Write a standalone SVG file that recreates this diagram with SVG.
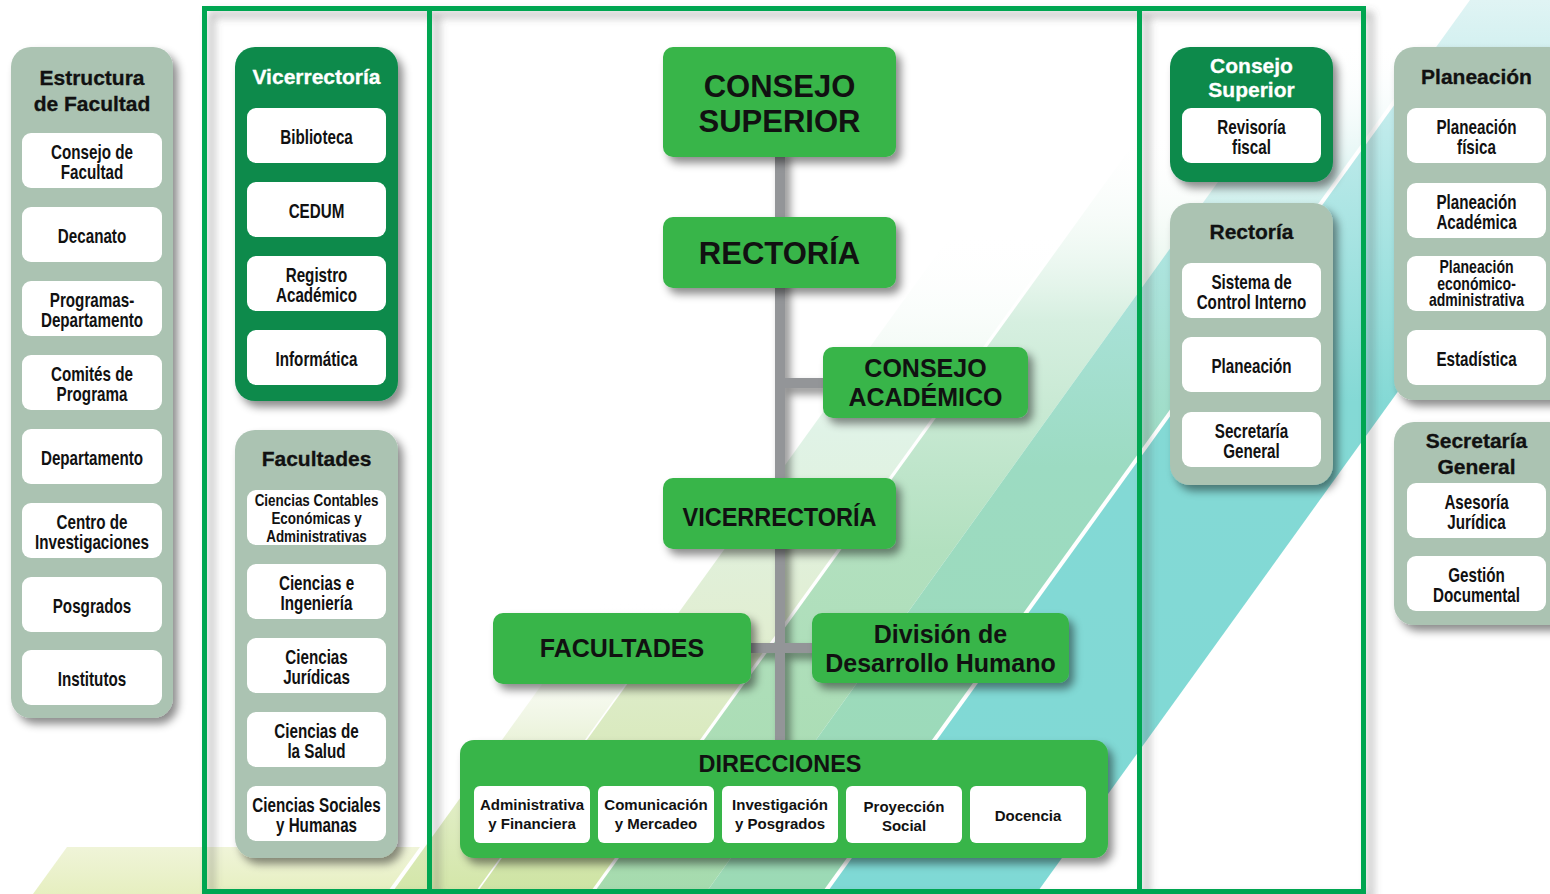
<svg xmlns="http://www.w3.org/2000/svg" width="1550" height="894" viewBox="0 0 1550 894">
<defs>
<style>
.pg{fill:#abc3b2}
.pd{fill:#0b8a4c}
.nd{fill:#39b54a}
.it{fill:#fff}
.tt{font-family:'Liberation Sans',Arial,sans-serif;font-weight:bold;font-size:21px;text-anchor:middle;fill:#111;stroke:#111;stroke-width:0.3}
.tw{fill:#fff;stroke:#fff}
.nx{font-family:'Liberation Sans',Arial,sans-serif;font-weight:bold;font-size:19.5px;text-anchor:middle;fill:#111}
.big{font-family:'Liberation Sans',Arial,sans-serif;font-weight:bold;text-anchor:middle;fill:#111}
.sb{font-family:'Liberation Sans',Arial,sans-serif;font-weight:bold;font-size:15px;text-anchor:middle;fill:#111}
.con{fill:#939598}
</style>
<filter id="sh" filterUnits="userSpaceOnUse" x="0" y="0" width="1550" height="894">
<feDropShadow dx="5" dy="6" stdDeviation="4" flood-color="#000" flood-opacity="0.45"/>
</filter>
<filter id="shf" filterUnits="userSpaceOnUse" x="0" y="0" width="1550" height="894">
<feDropShadow dx="7" dy="6" stdDeviation="4" flood-color="#555" flood-opacity="0.45"/>
</filter>
<linearGradient id="g0" gradientUnits="userSpaceOnUse" x1="0" y1="894" x2="0" y2="840">
<stop offset="0" stop-color="#e6efc0"/><stop offset="1" stop-color="#f1f5dc"/>
</linearGradient>
<linearGradient id="g1a" gradientUnits="userSpaceOnUse" x1="0" y1="894" x2="0" y2="600">
<stop offset="0" stop-color="#d3e6a8"/><stop offset="0.5" stop-color="#e8f1d6"/><stop offset="1" stop-color="#ffffff" stop-opacity="0"/>
</linearGradient>
<linearGradient id="g1b" gradientUnits="userSpaceOnUse" x1="0" y1="894" x2="0" y2="230">
<stop offset="0" stop-color="#cfe4a4"/><stop offset="0.4" stop-color="#e1eed2"/><stop offset="0.7" stop-color="#e0f3e7"/><stop offset="1" stop-color="#ffffff" stop-opacity="0"/>
</linearGradient>
<linearGradient id="g2a" gradientUnits="userSpaceOnUse" x1="0" y1="894" x2="0" y2="130">
<stop offset="0" stop-color="#a6dbae"/><stop offset="0.45" stop-color="#b2e0bf"/><stop offset="0.75" stop-color="#d6efe0"/><stop offset="1" stop-color="#ffffff" stop-opacity="0"/>
</linearGradient>
<linearGradient id="g2b" gradientUnits="userSpaceOnUse" x1="0" y1="894" x2="0" y2="40">
<stop offset="0" stop-color="#9cdab5"/><stop offset="0.5" stop-color="#9cdbc2"/><stop offset="0.75" stop-color="#ade4df"/><stop offset="1" stop-color="#ffffff" stop-opacity="0"/>
</linearGradient>
<linearGradient id="g3" gradientUnits="userSpaceOnUse" x1="0" y1="894" x2="0" y2="0">
<stop offset="0" stop-color="#7fd9d5"/><stop offset="0.55" stop-color="#84d9d5"/><stop offset="0.85" stop-color="#bdeaea"/><stop offset="1" stop-color="#e0f4f4"/>
</linearGradient>
</defs>
<rect x="0" y="0" width="1550" height="894" fill="#fff"/>
<g id="background">
<polygon points="33,894 67,847 420,847 386,894" fill="url(#g0)"/>
<polygon points="391,894 474,894 1118,0 1035,0" fill="url(#g1a)"/>
<polygon points="476,894 589,894 1233,0 1120,0" fill="url(#g1b)"/>
<polygon points="593,894 705,894 1349,0 1237,0" fill="url(#g2a)"/>
<polygon points="705,894 821,894 1465,0 1349,0" fill="url(#g2b)"/>
<polygon points="826,894 1036,894 1680,0 1470,0" fill="url(#g3)"/>
</g>
<g id="frame" filter="url(#shf)" fill="none" stroke="#00a651" stroke-width="5">
<rect x="204.5" y="8.5" width="1159" height="883"/>
<line x1="429.5" y1="8.5" x2="429.5" y2="891.5"/>
<line x1="1139.5" y1="8.5" x2="1139.5" y2="891.5"/>
</g>
<g id="connectors" filter="url(#sh)">
<rect class="con" x="775" y="150" width="10" height="595"/>
<rect class="con" x="785" y="378" width="42" height="10"/>
<rect class="con" x="748" y="643" width="68" height="10"/>
</g>
<g id="estructura-facultad">
<rect class="pg" x="11" y="47" width="162" height="671" rx="20" filter="url(#sh)"/>
<text class="tt" x="92" y="85">Estructura</text>
<text class="tt" x="92" y="111">de Facultad</text>
<rect class="it" x="22" y="133" width="140" height="55" rx="9"/>
<rect class="it" x="22" y="207" width="140" height="55" rx="9"/>
<rect class="it" x="22" y="281" width="140" height="55" rx="9"/>
<rect class="it" x="22" y="355" width="140" height="55" rx="9"/>
<rect class="it" x="22" y="429" width="140" height="55" rx="9"/>
<rect class="it" x="22" y="503" width="140" height="55" rx="9"/>
<rect class="it" x="22" y="577" width="140" height="55" rx="9"/>
<rect class="it" x="22" y="650" width="140" height="55" rx="9"/>
<g transform="translate(92,0) scale(0.78,1)">
<text class="nx" x="0" y="159.5">Consejo de</text>
<text class="nx" x="0" y="179.5">Facultad</text>
<text class="nx" x="0" y="243">Decanato</text>
<text class="nx" x="0" y="307.5">Programas-</text>
<text class="nx" x="0" y="327.5">Departamento</text>
<text class="nx" x="0" y="381.5">Comités de</text>
<text class="nx" x="0" y="401.5">Programa</text>
<text class="nx" x="0" y="465">Departamento</text>
<text class="nx" x="0" y="529.5">Centro de</text>
<text class="nx" x="0" y="549.5">Investigaciones</text>
<text class="nx" x="0" y="613">Posgrados</text>
<text class="nx" x="0" y="686">Institutos</text>
</g>
</g>
<g id="vicerrectoria-panel">
<rect class="pd" x="235" y="47" width="163" height="354" rx="20" filter="url(#sh)"/>
<text class="tt tw" x="316.5" y="84">Vicerrectoría</text>
<rect class="it" x="247" y="108" width="139" height="55" rx="9"/>
<rect class="it" x="247" y="182" width="139" height="55" rx="9"/>
<rect class="it" x="247" y="256" width="139" height="55" rx="9"/>
<rect class="it" x="247" y="330" width="139" height="55" rx="9"/>
<g transform="translate(316.5,0) scale(0.78,1)">
<text class="nx" x="0" y="144">Biblioteca</text>
<text class="nx" x="0" y="218">CEDUM</text>
<text class="nx" x="0" y="282.5">Registro</text>
<text class="nx" x="0" y="302.5">Académico</text>
<text class="nx" x="0" y="366">Informática</text>
</g>
</g>
<g id="facultades-panel">
<rect class="pg" x="235" y="430" width="163" height="428" rx="20" filter="url(#sh)"/>
<text class="tt" x="316.5" y="466">Facultades</text>
<rect class="it" x="247" y="490" width="139" height="55" rx="9"/>
<rect class="it" x="247" y="564" width="139" height="55" rx="9"/>
<rect class="it" x="247" y="638" width="139" height="55" rx="9"/>
<rect class="it" x="247" y="712" width="139" height="55" rx="9"/>
<rect class="it" x="247" y="786" width="139" height="55" rx="9"/>
<g transform="translate(316.5,0) scale(0.79,1)">
<text class="nx" x="0" y="506" style="font-size:17px">Ciencias Contables</text>
<text class="nx" x="0" y="524" style="font-size:17px">Económicas y</text>
<text class="nx" x="0" y="542" style="font-size:17px">Administrativas</text>
</g>
<g transform="translate(316.5,0) scale(0.78,1)">
<text class="nx" x="0" y="590.5">Ciencias e</text>
<text class="nx" x="0" y="610.5">Ingeniería</text>
<text class="nx" x="0" y="664.5">Ciencias</text>
<text class="nx" x="0" y="684.5">Jurídicas</text>
<text class="nx" x="0" y="738.5">Ciencias de</text>
<text class="nx" x="0" y="758.5">la Salud</text>
<text class="nx" x="0" y="812.5">Ciencias Sociales</text>
<text class="nx" x="0" y="832.5">y Humanas</text>
</g>
</g>
<g id="consejo-superior-panel">
<rect class="pd" x="1170" y="47" width="163" height="135" rx="20" filter="url(#sh)"/>
<text class="tt tw" x="1251.5" y="73">Consejo</text>
<text class="tt tw" x="1251.5" y="97">Superior</text>
<rect class="it" x="1182" y="108" width="139" height="55" rx="9"/>
<g transform="translate(1251.5,0) scale(0.78,1)">
<text class="nx" x="0" y="134">Revisoría</text>
<text class="nx" x="0" y="154">fiscal</text>
</g>
</g>
<g id="rectoria-panel">
<rect class="pg" x="1170" y="203" width="163" height="282" rx="20" filter="url(#sh)"/>
<text class="tt" x="1251.5" y="239">Rectoría</text>
<rect class="it" x="1182" y="263" width="139" height="55" rx="9"/>
<rect class="it" x="1182" y="337" width="139" height="55" rx="9"/>
<rect class="it" x="1182" y="412" width="139" height="55" rx="9"/>
<g transform="translate(1251.5,0) scale(0.78,1)">
<text class="nx" x="0" y="289.5">Sistema de</text>
<text class="nx" x="0" y="309.5">Control Interno</text>
<text class="nx" x="0" y="373">Planeación</text>
<text class="nx" x="0" y="438.5">Secretaría</text>
<text class="nx" x="0" y="458.5">General</text>
</g>
</g>
<g id="planeacion-panel">
<rect class="pg" x="1394" y="47" width="175" height="353" rx="20" filter="url(#sh)"/>
<text class="tt" x="1476.5" y="84">Planeación</text>
<rect class="it" x="1407" y="108" width="139" height="55" rx="9"/>
<rect class="it" x="1407" y="183" width="139" height="55" rx="9"/>
<rect class="it" x="1407" y="256" width="139" height="55" rx="9"/>
<rect class="it" x="1407" y="330" width="139" height="55" rx="9"/>
<g transform="translate(1476.5,0) scale(0.78,1)">
<text class="nx" x="0" y="134">Planeación</text>
<text class="nx" x="0" y="154">física</text>
<text class="nx" x="0" y="209.5">Planeación</text>
<text class="nx" x="0" y="229.5">Académica</text>
<text class="nx" x="0" y="273.5" style="font-size:18px">Planeación</text>
<text class="nx" x="0" y="290" style="font-size:18px">económico-</text>
<text class="nx" x="0" y="306.5" style="font-size:18px">administrativa</text>
<text class="nx" x="0" y="366">Estadística</text>
</g>
</g>
<g id="secretaria-panel">
<rect class="pg" x="1394" y="422" width="175" height="203" rx="20" filter="url(#sh)"/>
<text class="tt" x="1476.5" y="448">Secretaría</text>
<text class="tt" x="1476.5" y="474">General</text>
<rect class="it" x="1407" y="483" width="139" height="55" rx="9"/>
<rect class="it" x="1407" y="556" width="139" height="55" rx="9"/>
<g transform="translate(1476.5,0) scale(0.78,1)">
<text class="nx" x="0" y="509.5">Asesoría</text>
<text class="nx" x="0" y="529.5">Jurídica</text>
<text class="nx" x="0" y="582.5">Gestión</text>
<text class="nx" x="0" y="602.5">Documental</text>
</g>
</g>
<g id="consejo-superior">
<rect class="nd" x="663" y="47" width="233" height="110" rx="10" filter="url(#sh)"/>
<text class="big" x="779.5" y="97" font-size="31">CONSEJO</text>
<text class="big" x="779.5" y="132" font-size="31">SUPERIOR</text>
</g>
<g id="rectoria">
<rect class="nd" x="663" y="217" width="233" height="71" rx="10" filter="url(#sh)"/>
<text class="big" x="779.5" y="264" font-size="31">RECTORÍA</text>
</g>
<g id="consejo-academico">
<rect class="nd" x="823" y="347" width="205" height="71" rx="10" filter="url(#sh)"/>
<text class="big" x="925.5" y="377" font-size="25">CONSEJO</text>
<text class="big" x="925.5" y="406" font-size="25">ACADÉMICO</text>
</g>
<g id="vicerrectoria">
<rect class="nd" x="663" y="478" width="233" height="71" rx="10" filter="url(#sh)"/>
<text class="big" x="779.5" y="526" font-size="25" textLength="194" lengthAdjust="spacingAndGlyphs">VICERRECTORÍA</text>
</g>
<g id="facultades">
<rect class="nd" x="493" y="613" width="258" height="71" rx="10" filter="url(#sh)"/>
<text class="big" x="622" y="657" font-size="25">FACULTADES</text>
</g>
<g id="division-desarrollo-humano">
<rect class="nd" x="812" y="613" width="257" height="70" rx="10" filter="url(#sh)"/>
<text class="big" x="940.5" y="643" font-size="25">División de</text>
<text class="big" x="940.5" y="672" font-size="25">Desarrollo Humano</text>
</g>
<g id="direcciones">
<rect class="nd" x="460" y="740" width="648" height="118" rx="14" filter="url(#sh)"/>
<text class="big" x="780" y="772" font-size="24" textLength="163" lengthAdjust="spacingAndGlyphs">DIRECCIONES</text>
<rect class="it" x="474" y="786" width="116" height="57" rx="6"/>
<rect class="it" x="598" y="786" width="116" height="57" rx="6"/>
<rect class="it" x="722" y="786" width="116" height="57" rx="6"/>
<rect class="it" x="846" y="786" width="116" height="57" rx="6"/>
<rect class="it" x="970" y="786" width="116" height="57" rx="6"/>
<text class="sb" x="532" y="810">Administrativa</text>
<text class="sb" x="532" y="829">y Financiera</text>
<text class="sb" x="656" y="810">Comunicación</text>
<text class="sb" x="656" y="829">y Mercadeo</text>
<text class="sb" x="780" y="810">Investigación</text>
<text class="sb" x="780" y="829">y Posgrados</text>
<text class="sb" x="904" y="812">Proyección</text>
<text class="sb" x="904" y="831">Social</text>
<text class="sb" x="1028" y="821">Docencia</text>
</g>
</svg>
